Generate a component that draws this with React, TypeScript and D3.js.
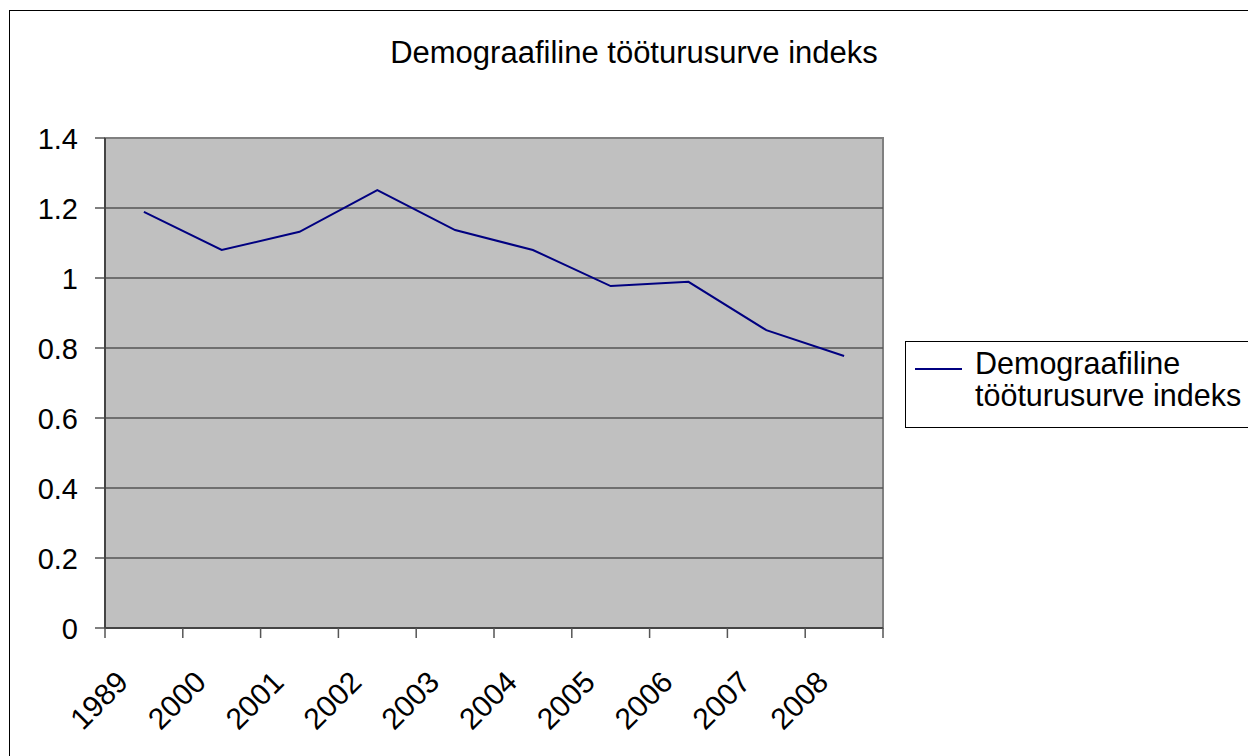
import React from "react";
import * as d3 from "d3";

const categories = ["1989", "2000", "2001", "2002", "2003", "2004", "2005", "2006", "2007", "2008"];
const values = [1.189, 1.08, 1.132, 1.251, 1.137, 1.08, 0.977, 0.989, 0.851, 0.777];
const yTicks = [0, 0.2, 0.4, 0.6, 0.8, 1, 1.2, 1.4];
const title = "Demograafiline tööturusurve indeks";
const legendLines = ["Demograafiline", "tööturusurve indeks"];

const W = 1248;
const H = 756;
const plot = { left: 105, top: 138, right: 883, bottom: 628 };
const FONT = "Arial, 'Liberation Sans', sans-serif";

export default function App() {
  const band = d3
    .scaleBand<string>()
    .domain(categories)
    .range([plot.left, plot.right])
    .paddingInner(0)
    .paddingOuter(0);
  const y = d3.scaleLinear().domain([0, 1.4]).range([plot.bottom, plot.top]);
  const cx = (c: string) => (band(c) as number) + band.bandwidth() / 2;

  const line = d3
    .line<number>()
    .x((_, i) => cx(categories[i]))
    .y((d) => y(d));

  const boundaries = categories.map((c) => band(c) as number).concat([plot.right]);

  return (
    <svg
      width={W}
      height={H}
      style={{ position: "absolute", left: 0, top: 0, background: "#fff" }}
      fontFamily={FONT}
    >
      <rect x={9.5} y={10.5} width={1300} height={800} fill="#fff" stroke="#000" strokeWidth={1} />
      <text x={634} y={63} textAnchor="middle" fontSize={31} fill="#000">
        {title}
      </text>
      <rect
        x={plot.left}
        y={plot.top}
        width={plot.right - plot.left}
        height={plot.bottom - plot.top}
        fill="#c0c0c0"
        stroke="#808080"
        strokeWidth={2}
      />
      {yTicks.map((t) => (
        <g key={t}>
          {t > 0 && t < 1.4 && (
            <line x1={plot.left} x2={plot.right} y1={y(t)} y2={y(t)} stroke="#555" strokeWidth={1.5} />
          )}
          <line x1={95} x2={plot.left} y1={y(t)} y2={y(t)} stroke="#555" strokeWidth={1.5} />
          <text x={78} y={y(t) + 11} textAnchor="end" fontSize={29} fill="#000">
            {String(t)}
          </text>
        </g>
      ))}
      <line x1={plot.left} x2={plot.left} y1={plot.top} y2={plot.bottom} stroke="#444" strokeWidth={2} />
      <line x1={plot.left} x2={plot.right} y1={plot.bottom} y2={plot.bottom} stroke="#444" strokeWidth={2} />
      {boundaries.map((b, i) => (
        <line key={i} x1={b} x2={b} y1={plot.bottom} y2={638} stroke="#555" strokeWidth={1.5} />
      ))}
      {categories.map((c) => (
        <text
          key={c}
          transform={`translate(${cx(c) - 14},${684}) rotate(-45)`}
          textAnchor="end"
          fontSize={30}
          fill="#000"
        >
          {c}
        </text>
      ))}
      <path d={line(values) || ""} fill="none" stroke="#000080" strokeWidth={2} />
      <rect x={905.5} y={341.5} width={400} height={86} fill="#fff" stroke="#000" strokeWidth={1} />
      <line x1={915} x2={962} y1={369} y2={369} stroke="#000080" strokeWidth={2} />
      {legendLines.map((l, i) => (
        <text key={i} x={975} y={374 + i * 32} fontSize={30.5} fill="#000">
          {l}
        </text>
      ))}
    </svg>
  );
}
